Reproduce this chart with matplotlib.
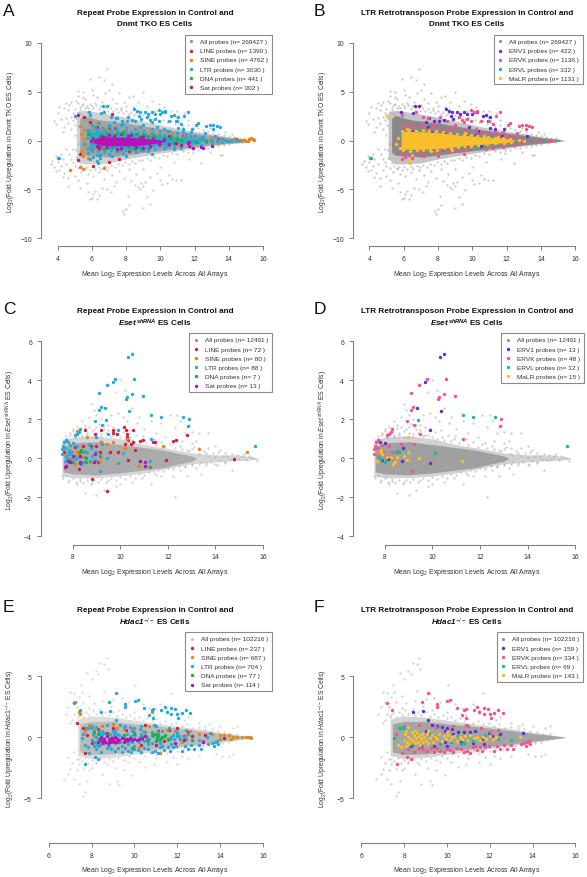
import matplotlib
matplotlib.use("Agg")
import matplotlib.pyplot as plt

plt.rcParams['font.family'] = ['Liberation Sans', 'DejaVu Sans']
plt.rcParams['mathtext.fontset'] = 'custom'
plt.rcParams['mathtext.rm'] = 'Liberation Sans'
plt.rcParams['mathtext.it'] = 'Liberation Sans:italic'
plt.rcParams['mathtext.bf'] = 'Liberation Sans:bold'
plt.rcParams['mathtext.bfit'] = 'Liberation Sans:italic:bold'

# ---------- dense body of the "All probes" clouds, read as (x, lower, upper) ----------
DNMT_BODY = [(5.3,-1.2,2.2),(5.5,-1.5,2.6),(6,-1.6,2.3),(6.5,-1.6,2.1),(7,-1.7,2.0),(8,-1.5,1.8),(9,-1.25,1.5),(10,-1.05,1.2),
             (11,-.85,1.0),(12,-.65,.75),(13,-.45,.55),(14,-.27,.3),(15,-.1,.12),(15.2,-.02,.02)]
DNMT_HALO = [(5.1,-1.9,2.9),(5.5,-2.4,3.1),(6,-2.4,3.0),(7,-2.3,2.7),(8,-1.9,2.4),(9,-1.6,2.0),(10,-1.3,1.6),(11,-1.05,1.25),
             (12,-.8,.95),(13,-.55,.7),(14,-.35,.38),(15,-.14,.16),(15.4,-.02,.02)]
ESET_BODY = [(7.6,-.7,.6),(8,-.8,.8),(9,-.85,.85),(10,-.75,.7),(11,-.6,.55),(11.8,-.48,.42),(12.2,-.36,.32),(12.6,-.25,.22),(13,-.15,.12),(13.2,-.02,.02)]
ESET_HALO = [(7.55,-.9,.85),(8,-1.0,1.1),(9,-1.0,1.15),(10,-.9,1.0),(11,-.75,.7),(12,-.52,.5),(13,-.28,.28),(14,-.18,.18),(15,-.12,.17),(15.8,-.05,.02)]
HDAC_BODY = [(7.45,-1.2,1.1),(8,-1.4,1.3),(9,-1.35,1.3),(10,-1.1,1.1),(11,-.95,.95),(12,-.75,.75),(13,-.55,.55),(14,-.32,.32),(15,-.13,.13),(15.5,-.02,.02)]
HDAC_HALO = [(7.35,-1.5,1.5),(8,-1.75,1.75),(9,-1.65,1.65),(10,-1.4,1.4),(11,-1.15,1.15),(12,-.92,.92),(13,-.7,.7),(14,-.42,.42),(15,-.16,.16),(15.55,-.02,.02)]
LTR_DNMT_CORE = [(5.85,-.8,.9),(6,-.9,.95),(7,-.9,.9),(8,-.8,.8),(9,-.65,.6),(10,-.45,.45),(11,-.33,.3),(12,-.2,.2),(12.5,-.03,.03)]
SAT_DNMT_CORE = [(6.1,-.2,.1),(6.5,-.5,.4),(7.5,-.55,.35),(8.5,-.55,.3),(9.3,-.4,.2),(10,-.22,.08),(10.2,-.1,-.05)]

# ---------- Dnmt TKO panels ----------
DNMT_ALL = [(4.7,3.6),(4.8,4.0),(5.0,3.2),(5.1,4.1),(5.2,3.8),(4.9,2.8),(5.3,3.4),(5.0,2.6),(5.4,2.8),(4.6,3.1),(5.2,4.6),(5.5,3.7),(5.6,4.3),(5.8,3.3),(5.7,2.9),
 (3.8,2.0),(3.9,1.7),(4.0,2.8),(4.1,3.4),(4.2,2.2),(4.4,1.4),(4.5,2.3),(4.3,.9),(4.6,1.8),(4.8,1.2),(5.0,.6),(4.9,2.1),(4.5,3.8),(4.4,3.3),(5.05,1.6),(5.1,2.3),(4.8,2.4),
 (3.6,-2.4),(3.7,-2.1),(3.8,-2.7),(3.9,-1.6),(4.0,-2.2),(4.1,-3.0),(4.2,-2.6),(4.3,-1.9),(4.4,-3.3),(4.5,-2.4),(4.6,-3.8),(4.6,-4.7),(4.8,-3.0),(4.9,-2.2),(5.0,-3.6),(5.1,-1.8),(5.2,-4.0),(5.2,-2.8),(5.3,-4.9),(5.4,-3.2),(4.7,-1.4),(4.9,-.9),(4.2,-1.4),(4.5,-.9),(5.1,-1.0),(5.2,-.4),(5.0,-2.6),(4.8,-1.9),(3.9,-3.1),(4.3,-3.7),
 (5.7,-4.4),(5.8,-5.3),(6.0,-5.9),(6.1,-5.5),(6.2,-5.2),(5.9,-6.0),(6.3,-6.0),(6.4,-5.6),(6.6,-4.9),(6.9,-5.0),(7.1,-5.3),(7.3,-4.7),(7.4,-4.3),(7.8,-7.2),(7.9,-7.5),(8.0,-7.0),(8.2,-6.6),(8.1,-5.7),(8.3,-4.2),(8.5,-4.6),(8.7,-4.8),(8.8,-5.0),(8.9,-4.4),(9.0,-4.7),(9.1,-4.3),(9.2,-5.8),(9.4,-6.5),(9.0,-6.9),(9.6,-5.1),(10,-4.1),(10.1,-4.5),(10.4,-4.4),(10.7,-3.9),(10.9,-4.0),(11.2,-4.1),(10.5,-3.5),(9.8,-3.3),(9.4,-3.7),(8.6,-3.4),(7.9,-3.8),(7.2,-3.5),(6.7,-3.9),(6.4,-3.2),(6.1,-3.6),(5.8,-3.4),(5.6,-2.8),(6.9,-3.0),(7.6,-3.1),(8.2,-2.9),(9.0,-2.9),(10.0,-2.7),(10.8,-2.2),(11.7,-1.9),(12.4,-2.3),(13.5,-1.45),(13.6,-1.5),(12.9,-1.2),(11.9,-1.3),
 (6.0,5.2),(5.5,5.0),(5.2,5.1),(6.1,4.7),(6.4,6.5),(6.7,6.2),(7,5.2),(7.2,5.8),(6.9,7.3),(5.9,6.3),(5.5,4.5),(6.3,4.5),(6.8,4.9),(7.2,4.3),(7.6,4.9),(7.9,3.9),(8.2,4.5),(8.4,4.6),(8.7,4.0),(9,5.0),(9.5,4.1),(9.9,3.7),(10.2,3.4),(10.6,3.0),(11,3.0),(11.4,2.8),(8.0,3.5),(6.2,3.8),(6.6,3.9),(7.0,3.6),(7.4,3.8),(7.7,3.3),(8.4,3.4),(9.2,3.5),(9.7,3.0),(10.9,2.4),(11.6,2.1),(12.2,1.7),(12.9,1.3),(13.8,.9),(14.2,.7),
 (5.2,2.9),(5.3,3.1),(5.45,3.6),(5.6,3.35),(5.75,3.55),(5.9,3.7),(6.0,3.5),(6.1,3.3),(6.25,3.6),(6.4,3.25),(6.5,3.5),(6.65,3.15),(6.8,3.4),(6.95,3.05),(7.1,3.35),(7.25,3.0),(7.4,3.2),(7.55,2.9),(7.7,3.1),(7.85,2.85),(8.0,3.05),(8.15,2.75),(8.3,2.9),(8.45,2.6),(8.6,2.8),(8.8,2.5),(9.0,2.65),(9.15,2.35),(9.35,2.5),(9.55,2.2),(9.75,2.3),(9.95,2.05),(10.15,2.15),(10.4,1.9),(10.6,2.0),(10.85,1.7),(11.1,1.75),(11.35,1.5),(11.6,1.55),(11.9,1.3),(12.2,1.25),(12.5,1.05),(12.8,1.0),(13.1,.85),(13.4,.7),(13.7,.6),(14,.5),(14.3,.4),(14.6,.3),(14.9,.25),
 (5.3,-2.3),(5.45,-2.6),(5.6,-2.9),(5.75,-2.7),(5.9,-3.0),(6.05,-2.75),(6.2,-2.95),(6.4,-2.7),(6.55,-2.9),(6.75,-2.6),(6.95,-2.75),(7.15,-2.5),(7.35,-2.7),(7.55,-2.4),(7.75,-2.55),(7.95,-2.25),(8.15,-2.4),(8.35,-2.1),(8.55,-2.3),(8.75,-1.95),(8.95,-2.05),(9.2,-1.8),(9.4,-1.95),(9.65,-1.65),(9.9,-1.75),(10.15,-1.5),(10.4,-1.6),(10.7,-1.3),(11,-1.35),(11.3,-1.1),(11.6,-1.15),(11.9,-.95),(12.2,-1.0),(12.5,-.8),(12.8,-.75),(13.1,-.65),(13.4,-.55),(13.7,-.45),(14,-.4),(14.4,-.3),(14.8,-.2)]
B_ERV1 = [(6.66,3.56),(6.9,3.5),(5.83,2.95),(6.56,2.8),(8.45,3.2),(8.65,3.05),(8.83,2.95),(9.1,2.9),(9.3,2.7),(8.75,2.5),(8.9,2.25),(8.35,2.1),(8.05,2.0),(7.75,2.0),(7.3,1.85),(7.5,2.35),(9.5,2.95),(9.7,2.7),(10,2.7),(10.25,2.9),(10.6,2.5),(10.8,2.6),(11.05,2.45),(10.9,2.0),(11.05,1.3),(11.35,1.2),(11.85,1.15),(11.75,.5),(13.2,.5),
 (6.5,.9),(7,.7),(7.6,.9),(8.4,.7),(9.2,.5),(9.7,-.5),(10.2,.6),(10.5,-.6),(11,.3),(12.2,.2),(7.1,-1),(8.3,-.9),(9.0,-1.0),(7.4,1.4),(9.8,1.4),(10.4,1.0)]
B_ERVK = [(5.9,2.6),(6.7,2.9),(7.1,2.4),(7.4,2.3),(7.8,1.7),(8.1,2.4),(8.5,2.0),(9.0,1.6),(9.2,2.4),(9.4,2.1),(9.5,1.9),(9.7,2.2),(9.9,2.0),(9.9,3.1),(10.1,2.9),(10.3,3.0),(10.5,2.0),(11.2,1.7),(11.6,2.9),(11.4,2.5),(11.0,2.0),(12.1,1.6),(12.2,1.8),(12.7,1.5),(12.9,1.6),(13.1,1.6),(13.3,1.5),(13.5,1.4),(13.1,1.2),(11.8,.9),(12.6,.8),(7.0,1.6),
 (5.8,-1.3),(6,-1.1),(6.3,-1.5),(6.7,-1.2),(7,-1.4),(7.4,-1.1),(7.8,-1.3),(8.2,-.9),(8.6,-1.2),(9,-1),(9.3,-1.1),(9.7,-.9),(10.2,-.8),(10.8,-.9),(11.2,-.8),(11.8,-.7),(12.4,-.5),(13,-.3),(13.6,-.2),(14.1,-.1),(14.6,0.0),(12.9,.1),(13.3,-.1),(13.9,.0),(14.4,.1),(5.9,-1.9),(6.1,-1.7),(6.5,-1.8),(7.2,-1.6),(8.0,-1.6),(9.5,-1.4),
 (5.8,1.1),(6.2,1.4),(6.6,1.3),(7,1.5),(7.5,1.2),(8,1.3),(8.5,1.2),(9,1.0),(9.5,1.2),(10,1),(10.5,1.0),(11,.8),(11.5,.7),(12,.5),(12.5,.4),(6.4,1.8),(6.0,1.6),(7.7,1.6),(8.8,1.4),(10.2,1.2),(11.3,.9),(12.3,.3),(13.6,.15),(14.2,-.05),(12.1,-.3),(12.7,-.2)]
B_ERVL = [(5.8,.9),(5.9,.7),(4.1,-1.8),(4.05,-1.8),(7.2,.8),(8.0,.8),(9.0,.7),(10.3,-.7),(10.8,-.6),(11,.4),(11.9,-.1),(12.5,.1),(13,.0),(13.8,.1),(14.2,0),(10.0,.5),(9.3,-.7),(7.5,-1.0),(6.5,-.9),(6.8,1.05),(12.2,-.05),(13.4,.05)]
B_MALR = [(5.05,2.5),(6.35,-2.3),(6.3,-2.15),(5.55,-.4),(6.5,-1.5),(6.2,1.15),(7.6,-1.1),(8.8,-.95),(5.8,-.8),(5.7,.3),(9.6,.75),(10.7,.5),(11.5,.4),(12.7,.05),(13.0,-.05),
 (5.9,1.0),(6.3,1.05),(6.7,.95),(7.1,1.05),(7.5,.95),(7.9,.95),(8.3,.85),(8.7,.8),(9.1,.7),(9.5,.55),(9.9,.55),(10.3,.45),(10.9,.4),(11.3,.3),(11.8,.3),(12.2,.2),
 (5.95,-.95),(6.35,-1.05),(6.75,-1.0),(7.15,-1.0),(7.55,-.95),(7.95,-.95),(8.35,-.8),(8.75,-.8),(9.15,-.7),(9.55,-.55),(9.95,-.55),(10.35,-.45),(10.85,-.4),(11.35,-.3),(11.85,-.25),(12.25,-.15)]
A_LINE = [(5.2,2.6),(5.55,2.4),(5.9,1.9),(6.3,1.4),(7.0,1.4),(7.2,2.75),(7.35,1.3),(6.1,-2.6),(6.5,-1.5),(7.0,-2.2),(7.6,-1.9),(8.2,-1.1),(9.3,-.8),(5.3,-1.4),(5.9,.8),(6.8,.4),(7.7,.7),(8.8,.4),(9.6,.5),(10.5,.5),(11.3,.5),(11.7,-.2),(12.5,.2),(13.4,.2),(14.4,.15),(10.4,-.5),(6.4,-.7)]
A_SINE = [(4.75,-3.05),(6.7,-2.8),(5.3,-2.7),(5.5,-2.9),(5.3,1.5),(5.4,.7),(5.55,1.1),(5.5,.2),(5.6,-.4),(5.7,-.9),(5.8,.4),(6,1.3),(6.1,.2),(6.2,-.7),(6.4,1.1),(6.6,-.9),(6.5,.8),(7,1.1),(7.1,-.9),(7.3,.9),(7.7,-1.0),(8,1.0),(8.4,-.9),(8.7,.9),(9.1,-.8),(9.4,.8),(9.9,.7),(10.2,-.6),(10.7,.7),(11,-.4),(11.4,.5),(11.9,.4),(12.4,.4),(13,.25),(13.4,-.25),(13.6,.2),(14,.1),(14.3,.15),(14.5,.0),(14.7,.05),(14.8,0),(14.9,.05),(15,0),(15.1,-.02),(15.2,.15),(15.3,.3),(15.4,.2),(15.45,.08),(5.35,-1.1),(5.5,-1.6),(5.8,-1.8),(6.3,1.8),(6.7,1.3)]
A_DNA = [(5.8,.7),(6.0,.4),(6.5,.55),(6.9,.8),(7.4,.7),(7.8,.9),(8.2,.6),(8.6,.7),(9.0,.6),(9.3,.5),(9.7,.5),(10.2,.3),(10.6,.25),(11.0,.15),(11.2,.05),(6.3,-.6),(6.7,-.8),(7.2,-.7),(7.7,-.85),(8.1,-.7),(8.5,-.85),(8.9,-.75),(9.4,-.7),(10,-.4),(10.8,-.25),(12.1,-.2),(12.7,-.1)]
A_SAT = [(5.2,-2.05),(6.2,-.2),(5.95,-.1),(6.4,-.8),(7.5,-.9),(9.0,-.75),(9.9,-.4),(10.2,.1),(10.5,-.4),(10.9,-.3),(11.2,-.5),(11.7,-.55),(11.9,-.75),(12.4,-.7),(12.5,-.8),(13,-.55),(9.6,.2),(8.3,.55),(7.0,.55),(11.6,-.3),
 (6.1,.2),(6.3,-.55),(6.6,.5),(6.9,-.7),(7.3,.5),(7.7,-.75),(8.1,.45),(8.6,-.7),(9,.4),(9.4,-.55)]

# ---------- Eset shRNA panels ----------
ESET_ALL = [(9.5,3.8),(9.8,3.4),(10,4),(10.2,3.5),(8.8,2.8),(8.9,2.5),(9,2.2),(8.7,2.1),(8.5,1.7),(8.2,1.6),(8,1.5),(7.9,1.3),(8.4,1.9),(9.2,2),(9.6,2.2),(9.9,2.3),(10.1,2.1),(10.5,2.6),(10.8,2.1),(11.3,1.9),(11.7,1.8),(12.1,2.2),(12.4,2.2),(12.5,1.9),(12.9,1.7),(13,1.35),(13.3,1.3),(13.7,1.3),(12.7,1.3),(12.3,1.6),(11.9,1.1),(11.5,1.3),(11,1.5),(10.7,1.8),(10.3,1.9),(9.3,1.5),(9.5,1.7),(9,1.6),(8.8,1.4),(8.6,1.3),(8.4,1.2),
 (8.5,-1.8),(9,-1.9),(9.3,-1.6),(9.8,-1.4),(10,-1.3),(10.5,-1.2),(11.3,-1.3),(12.3,-2),(8.2,-1.3),(7.8,-1.2),(7.55,-.9),(8.8,-1.2),(11.7,-.9),(12.2,-.9),(12.8,-.9),(13.4,-.8),(14.7,-.6),
 (12.6,.5),(12.7,-.4),(12.9,.4),(13,-.3),(13.1,.6),(13.2,-.5),(13.3,.2),(13.4,-.2),(13.5,.4),(13.6,-.35),(13.7,.55),(13.7,.1),(13.8,-.2),(13.9,.25),(14,.05),(14.05,-.35),(14.1,.3),(14.2,-.15),(14.3,.1),(14.4,.25),(14.4,-.25),(14.5,.1),(14.6,-.05),(14.7,.2),(14.8,-.1),(14.9,.15),(15,-.05),(15.1,.1),(15.2,.2),(15.3,-.1),(15.4,.1),(15.5,.05),(15.6,.0),(15.75,-.15),(14.0,.65),(13.2,.9),
 (9.2,1.1),(9.7,1.2),(10.4,1.1),(10.9,1.0),(11.4,1.0),(12.2,.8),(12.6,.9),(13.0,.8),(8.1,1.15),(7.7,1.0),(8.3,-1.15),(9.5,-1.1),(10.9,-1.0),(11.5,-.85),(12.5,-.6),
 (7.6,.95),(7.7,1.15),(7.8,1.0),(7.9,1.2),(8.0,1.4),(8.1,1.05),(8.2,1.3),(8.3,1.45),(8.4,1.1),(8.5,1.55),(8.6,1.2),(8.7,1.6),(8.8,1.1),(8.9,1.5),(9.0,1.3),(9.1,1.75),(9.2,1.25),(9.3,1.7),(9.4,1.3),(9.5,1.45),(9.6,1.15),(9.7,1.6),(9.8,1.2),(9.9,1.5),(10,1.1),(10.1,1.35),(10.2,1.0),(10.35,1.45),(10.5,.95),(10.65,1.2),(10.8,.9),(10.95,1.15),(11.1,.8),(11.3,.95),(11.5,.7),(11.7,.85),(11.9,.6),(12.1,.75),(12.3,.55),(12.5,.65),(12.8,.45),(13,.5),(13.3,.55),(13.6,.25),(14.2,.45),
 (7.6,-1.0),(7.7,-.9),(7.85,-1.1),(8,-1.0),(8.15,-1.2),(8.3,-1.05),(8.45,-1.25),(8.6,-1.1),(8.75,-1.3),(8.9,-1.1),(9.05,-1.2),(9.2,-1.05),(9.4,-1.2),(9.6,-1.0),(9.8,-1.1),(10,-.95),(10.2,-1.05),(10.4,-.9),(10.6,-1.0),(10.8,-.8),(11,-.85),(11.2,-.7),(11.4,-.75),(11.6,-.6),(11.8,-.65),(12,-.5),(12.2,-.55),(12.45,-.4),(12.7,-.45),(13,-.35),(13.3,-.3),(13.6,-.25),(14.0,-.3),(14.4,-.2)]
D_ERV1 = [(10.32,5.18),(10.5,5.35),(9.7,3.93),(9.34,2.58),(10.35,2.44),(9.9,1.43),(7.8,.85),(8,.78),(8.78,.55),(8.74,-.15),(9.9,-.24),(8.15,-.03),(7.9,-.07)]
D_ERVK = [(9.78,4.05),(9.45,3.78),(10.57,4.05),(9.12,3.33),(10.49,3.32),(10.96,3.21),(10.3,3.16),(10.22,3.03),(9.19,2.62),(9.1,2.46),(8.92,1.93),(9.25,1.71),(12.9,2.02),(12.84,1.68),(9.5,1.26),(11.29,.97),(8.32,1.5),(8.25,1.37),(8.2,1.25),(8.11,1.2),(7.72,.96),(7.62,.82),(7.6,.65),(7.57,.48),(7.67,.51),(7.9,.68),(8.18,.65),(8.67,.73),(9.23,.73),(9.16,-.65),(7.55,.22),(7.73,.14),(7.86,.25),(8.04,.05),(8.32,.3),(8.53,.4),(8.07,.14),(7.94,.3)]
D_ERVL = [(11.29,2.24),(11.72,2.1),(12.63,2.13),(15.65,.65),(9.41,1.98),(10.1,.27),(7.86,-.03),(8,-.2),(8.46,.34),(8.6,.31),(8.92,.3),(7.76,0)]
D_MALR = [(8.99,1.08),(7.86,.43),(7.83,.31),(7.66,-.15),(8.11,.05),(8.28,.05),(8.5,.05),(8.43,-.17),(8.35,-.29),(8.81,.14),(8.98,.31),(8.95,-.1),(9.44,.02),(11.26,-.14),(7.9,.22)]
C_LINE = [(10.14,1.62),(10.22,1.47),(10.52,1.45),(9.7,1.45),(9.87,1.23),(10.27,1.25),(10.3,1.08),(10.33,.96),(9.7,1.3),(9.19,1.47),(8.92,1.25),(8.5,1.44),(12.8,1.21),(12.36,.96),(12.2,.9),(11.36,.85),(11.45,.85),(10.94,.96),(10.83,.89),(10.52,.82),(10.45,.73),(10.18,.73),(9.19,.82),(8.76,.65),(9,.65),(8.45,.65),(8.1,.56),(9.92,.31),(9.57,.31),(9.15,.31),(10.6,.44),(7.65,.31),(8.3,.31),(8.27,-.55),(8.82,-1.08),(9.43,-1.66),(7.72,-.38),(10.33,-.07),(11.94,-.1),(14.78,-.03),(10.83,-.15),(9.05,-.2),(7.9,-.12)]
C_SINE = [(8.2,1.42),(8.59,1.08),(9.45,.73),(9.68,.85),(9.17,.85),(10.27,1.0),(11.78,.65),(13.33,.5),(15.34,.31),(10.2,.51),(7.82,.22),(7.95,.31),(8.1,.14),(8.24,.22),(8.38,.31),(8.45,.05),(8.56,.31),(7.96,-.03),(8.2,.31),(8.31,.05),(8.1,-.29),(8.73,-.2),(9.15,-.12),(10.8,-.4)]
C_DNA = [(8.31,.31),(8.56,.02),(8.56,-.2),(11.24,-.44),(8.34,.43),(7.96,-.2),(9.15,.14)]
C_SAT = [(7.72,-.41),(7.82,-.15),(8.31,-.2),(8.94,.22),(10.85,-.14),(11.06,-.17),(11.06,-.38),(7.89,-.17),(8.31,.14),(7.68,-.46),(8.9,-.2),(8.0,.1),(8.3,-.22)]

# ---------- Hdac1 panels ----------
HDAC_ALL = [(8.4,6.1),(8.6,6.0),(8.7,6.5),(8.75,5.6),(8.2,5.4),(7.8,5.3),(8,4.8),(8.3,5.2),(7.5,4.3),(7.2,3.6),(7,3.7),(6.9,2.5),(6.8,1.9),(7.1,1.4),(7.3,2.5),(7.6,2.9),(7.9,3.4),(8.1,2.8),(8.6,3.8),(9.2,3.6),(9.4,3.2),(9.7,2.9),(10.05,4.3),(10.2,3.1),(10.7,2.4),(11,2.3),(11.5,2.2),(12,2.0),(12.2,1.9),(11.7,3.6),(12.5,1.7),(13.5,1.1),(14,.9),(14.6,.8),(14.8,.9),(7.1,2.9),(7.4,3.3),(7.55,3.7),(7.2,1.9),(7.0,1.2),(7.35,1.7),(8.5,3.0),(8.9,2.6),(9.0,3.1),(9.6,2.5),(10.4,2.7),(11.2,2.7),(12.3,1.4),(13,1.2),(13.3,.9),(7.9,2.4),(8.4,2.3),(9.3,2.2),(10,2.1),(10.9,1.8),
 (6.7,-3.4),(6.9,-3),(7,-2.6),(7.2,-3.4),(7.3,-2.7),(7.4,-3.8),(7.4,-2.2),(7.6,-4.8),(7.7,-4.5),(7.8,-3.6),(8,-2.5),(7.9,-2.7),(8.5,-3.0),(8.8,-3.8),(9.2,-3.6),(9.3,-3.9),(9.5,-2.7),(9.9,-3.1),(10.5,-2.4),(10.9,-2.2),(11.5,-2.0),(12,-2.2),(12.5,-1.7),(13,-1.5),(13.8,-1.4),(14.1,-1.55),(14.4,-1.5),(14.6,-1.4),(7.1,-2.1),(7.3,-1.8),(7.6,-2.6),(8.2,-2.1),(8.7,-2.2),(9.1,-2.5),(9.7,-2.0),(10.2,-2.0),(11,-1.7),(11.8,-1.6),(12.2,-1.5),(6.9,-1.6),(7.2,-1.2),
 (7.4,1.8),(7.5,2.0),(7.6,1.7),(7.75,2.1),(7.9,1.85),(8.05,2.2),(8.2,1.9),(8.35,2.15),(8.5,1.85),(8.65,2.1),(8.8,1.8),(9,2.05),(9.2,1.75),(9.4,1.95),(9.6,1.65),(9.8,1.85),(10,1.55),(10.2,1.7),(10.4,1.4),(10.6,1.6),(10.8,1.3),(11,1.5),(11.2,1.2),(11.45,1.35),(11.7,1.1),(11.95,1.2),(12.2,.95),(12.45,1.05),(12.7,.8),(13,.85),(13.3,.65),(13.6,.65),(13.9,.5),(14.2,.45),(14.5,.3),(14.8,.25),
 (7.4,-1.8),(7.55,-1.95),(7.7,-1.7),(7.85,-2.1),(8,-1.85),(8.2,-2.05),(8.4,-1.8),(8.6,-2),(8.8,-1.75),(9,-1.95),(9.25,-1.7),(9.5,-1.85),(9.75,-1.55),(10,-1.7),(10.25,-1.4),(10.5,-1.55),(10.75,-1.25),(11,-1.4),(11.25,-1.15),(11.5,-1.25),(11.75,-1.0),(12,-1.15),(12.3,-.9),(12.6,-.95),(12.9,-.75),(13.2,-.75),(13.5,-.6),(13.8,-.55),(14.1,-.45),(14.4,-.35),(14.7,-.25)]
F_ERV1 = [(8.43,2.05),(8.88,2.19),(9.13,1.42),(9.32,1.04),(9.55,.9),(9.78,.82),(10.0,.8),(10.25,.68),(10.5,.4),(10.8,.4),(11.1,.45),(8.3,-.75),(8.8,-.7),(9.4,-.7),(9.9,-.4),(10.65,-.4),(11.73,-.55),(11.65,-.15),(12.5,.27),(13.55,.33),(11.97,.36),(8.6,.35),(9.0,.5),(9.9,.5),(10.3,.3),(11.3,.5),(8.0,-.2),(10.0,-.7),(11.2,-.5),(12.1,.1)]
F_ERVK = [(7.2,2.8),(7.45,2.2),(9.13,3.63),(8.82,2.87),(9.55,2.7),(9.55,2.45),(10.02,3.0),(10.15,3.03),(10.45,2.38),(10.8,2.2),(10.87,2.3),(10.7,1.8),(10.87,1.6),(11.26,2.2),(11.42,2.46),(11.73,2.38),(11.73,1.9),(12,1.9),(12.2,2),(12.4,2.2),(12.6,2),(12.05,1.6),(11.5,2.05),(11.9,2.3),(7.68,-2.2),(8.15,-1.6),(8.3,-1.75),
 (8.46,-1.2),(9.08,-1.1),(9.4,-1.2),(9.7,-1.1),(10,-.95),(10.3,-1.2),(10.65,-.95),(10.95,-1.1),(11.2,-.8),(11.4,-1),(11.65,-1.1),(11.8,-.8),(12.2,-1.1),(12.5,-.95),(12.8,-.95),(13.1,-.95),(13.45,-.55),(13.75,-.4),(13.9,-.55),(13.7,-.7),(8.9,-.95),(9.25,-.85),(9.55,-.9),(9.85,-1.2),(10.15,-1.0),(10.45,-.85),(10.8,-1.2),(11.1,-1.3),(11.3,-.75),(11.55,-.8),(11.95,-.7),(12.35,-.75),(12.65,-.6),(13,-.6),(13.6,-.45),(13.85,-.3),(7.9,-1.25),(8.2,-.95),(8.7,-.85),
 (8.0,.9),(8.7,1.0),(9.5,.85),(10.3,.95),(11.0,.9),(11.6,.8),(12.4,.6),(7.6,.3),(10.9,1.0),(12.0,.45)]
F_ERVL = [(7.8,.8),(7.9,.77),(7.75,.78),(8.0,.75),(7.55,-.08),(10.65,-.55),(10.2,-.4),(10.8,-.45),(11.05,-.1),(13,-.2),(9.7,-.55),(11.8,.15),(8.5,.3),(9.2,.25),(10.5,.1),(11.2,-.3),(12.4,-.1),(9.4,0),(8.4,-.6)]
F_MALR = [(7.7,-.6),(7.85,-.8),(8,-.2),(8.05,.25),(8.1,.5),(8.15,-.4),(8.2,.05),(8.25,-.55),(8.3,-.1),(8.35,.4),(8.4,-.3),(8.45,.15),(8.5,-.5),(8.55,-.05),(8.6,.35),(8.65,-.35),(8.7,.1),(8.75,-.6),(8.8,-.15),(8.85,.25),(8.9,-.4),(8.95,.05),(9.0,-.2),(9.05,.3),(9.1,-.5),(9.2,-.05),(9.3,.2),(9.35,-.35),(9.45,.05),(9.55,-.15),(9.65,.3),(9.75,-.3),(9.85,.1),(9.95,-.1),(10.05,.15),(10.15,-.25),(10.25,0),(10.35,.1),(10.45,-.3),(10.6,.05),(10.7,-.15),(10.85,.1),(11.0,-.2),(11.1,.15),(11.25,-.05),(11.4,.05),(11.55,-.2),(11.7,.05),(11.85,-.1),(12.0,.1),(12.15,-.1),(12.3,0),(8.2,.85),(8.1,-.75),(9.1,.55),(13.4,.0),(8.5,.55),(10.0,.45)]
E_LINE = [(7.3,1.2),(7.6,.8),(7.8,.2),(7.7,-1.3),(8.3,.7),(8.7,.35),(9,.8),(9.6,.6),(10.5,1.0),(11.1,.5),(12,.8),(12.5,.4),(13.3,.2),(14.2,-.05),(9.3,-.4),(10.3,-.6),(11.4,-.3),(12.3,.1),(8.0,-.5),(11.6,.6)]
E_SINE = [(7.25,2.9),(7.4,2.1),(7.45,1.9),(7.7,.5),(7.9,1.0),(8.2,.8),(8.5,.9),(8.8,-.7),(9.2,.8),(9.5,.7),(9.9,.65),(10.2,-.8),(10.4,.5),(10.8,2.1),(11.2,-1.3),(11.5,.6),(11.9,.5),(12.2,-.4),(12.6,.5),(13,.3),(13.2,-.3),(13.6,.25),(14,.2),(14.2,.15),(14.4,.2),(14.6,.05),(14.8,.05),(15,.02),(15.2,.05),(15.3,0),(15.4,0),(15.45,-.02),(12.4,.2),(10.7,.9),(9.0,1.1),(8.1,.1),(14.0,-.1),(14.5,-.1)]
E_DNA = [(8.1,.4),(8.3,.3),(8.7,.2),(9.5,.2),(10.0,.25),(10.6,-.2),(10.8,.2),(10.95,.3),(11.05,.05),(11.1,.2),(11.2,-.15),(11.3,.05),(11.45,.15),(11.55,-.1),(9.9,-.85),(12.7,-.2),(11.0,-.3),(10.35,-.15)]
E_SAT = [(8.3,-.35),(8.4,-.15),(8.45,.05),(8.5,-.3),(8.55,-.45),(8.6,-.1),(8.65,-.35),(8.7,.1),(8.75,-.45),(8.8,-.2),(8.85,-.4),(8.9,-.05),(8.95,-.3),(9.0,-.15),(9.05,-.35),(9.1,.05),(9.15,-.4),(9.2,-.1),(9.3,-.25),(9.4,-.05),(9.5,-.4),(9.55,-.15),(9.6,-.3),(9.65,-.1),(9.7,-.25),(9.8,-.05),(9.9,-.2),(10,-.1),(10.1,-.2),(10.2,-.1),(10.35,-.05),(10.5,.1),(11.9,-.45),(12.3,-.2),(12.7,.1),(13.2,-.35),(11.0,-.6)]

LABELS_REPEAT = ['LINE probes', 'SINE probes', 'LTR probes', 'DNA probes', 'Sat probes']
LABELS_LTR = ['ERV1 probes', 'ERVK probes', 'ERVL probes', 'MaLR probes']
N_A = [269427, 1390, 4762, 3030, 441, 302]
N_B = [269427, 422, 1136, 332, 1131]
N_C = [12491, 72, 80, 88, 7, 13]
N_D = [12491, 13, 48, 12, 15]
N_E = [102216, 237, 687, 704, 77, 114]
N_F = [102216, 159, 334, 69, 143]
COL_REPEAT = ['#D2203F', '#E0861F', '#2AA9D8', '#20B02C', '#B512B5']
COL_LTR = ['#5A2FD8', '#F0558E', '#1BB98C', '#FBBF2C']

W, H = 587, 878
fig = plt.figure(figsize=(W/100, H/100), dpi=100, facecolor='white')
TC = '#333333'
LC = '#808080'


def xy(pts):
    return [p[0] for p in pts], [p[1] for p in pts]


def panel(xt, xp0, xp1, yt, yp0, yp1, lp, bp, tp, ylab, title2, tx, lx):
    r = xp1 + 10
    ax = fig.add_axes([lp/W, 1-bp/H, (r-lp)/W, (bp-tp)/H])
    sx = (xt[-1]-xt[0])/(xp1-xp0)
    sy = (yt[-1]-yt[0])/(yp0-yp1)
    ax.set_xlim(xt[0]+(lp-xp0)*sx, xt[0]+(r-xp0)*sx)
    ax.set_ylim(yt[0]-(bp-yp0)*sy, yt[0]+(yp0-tp)*sy)
    ax.patch.set_alpha(0)
    for s in ('top', 'right'):
        ax.spines[s].set_visible(False)
    for s in ('left', 'bottom'):
        ax.spines[s].set_color(LC)
        ax.spines[s].set_linewidth(0.8)
    ax.spines['left'].set_bounds(yt[0], yt[-1])
    ax.spines['bottom'].set_bounds(xt[0], xt[-1])
    ax.set_xticks(xt)
    ax.set_yticks(yt)
    ax.tick_params(length=3, width=0.7, color=LC, labelsize=4.9, labelcolor=TC, pad=3.2)
    fig.text(tx/W, 1-(tp-22.5)/H, title1[ax_kind], ha='center', va='center', fontsize=5.9, fontweight='bold', color='#111111')
    fig.text(tx/W, 1-(tp-11)/H, title2, ha='center', va='center', fontsize=5.9, fontweight='bold', color='#111111')
    fig.text(tx/W, 1-(bp+27)/H, r'Mean Log$_2$ Expression Levels Across All Arrays', ha='center', va='center', fontsize=4.95, color=TC)
    fig.text(lx/W, 1-(yp0+yp1)/2/H, ylab, rotation=90, ha='center', va='center', fontsize=4.9, color=TC)
    return ax


def cloud(ax, halo, body, pts, col, halo_col, ptcol, s=3.0, alpha=.6):
    hx = [p[0] for p in halo]
    ax.fill_between(hx, [p[1] for p in halo], [p[2] for p in halo], color=halo_col, lw=0, zorder=1)
    bx = [p[0] for p in body]
    ax.fill_between(bx, [p[1] for p in body], [p[2] for p in body], color=col, lw=0, zorder=2)
    x, y = xy(pts)
    return ax.scatter(x, y, s=s, color=ptcol, alpha=alpha, lw=0, zorder=1.5)


def band(ax, core, col, z):
    ax.fill_between([p[0] for p in core], [p[1] for p in core], [p[2] for p in core], color=col, lw=0, zorder=z)


def marks(ax, series, cols, labels, ns, allcol, rx, ty):
    hs = [ax.scatter([], [], s=5, color=allcol, lw=0)]
    for i, (pts, c) in enumerate(zip(series, cols)):
        x, y = xy(pts)
        ax.scatter(x, y, s=6, color=c, lw=0, zorder=3+i*.1)
        hs.append(ax.scatter([], [], s=6, color=c, lw=0))
    labs = ['All probes'] + labels
    texts = [f'{l} (n= {n} )' for l, n in zip(labs, ns)]
    leg = ax.legend(hs, texts, loc='upper right', bbox_to_anchor=(rx/W, 1-ty/H), bbox_transform=fig.transFigure,
                    borderaxespad=0, fontsize=4.65, labelspacing=.57, handlelength=.9, handletextpad=.95,
                    borderpad=.55, fancybox=False, framealpha=1, edgecolor='#8a8a8a', labelcolor=TC)
    leg.get_frame().set_linewidth(.8)
    leg.set_zorder(10)


title1 = {'R': 'Repeat Probe Expression in Control and', 'L': 'LTR Retrotransposon Probe Expression in Control and'}
YA = r'Log$_2$(Fold Upregulation in Dnmt TKO ES Cells)'
YC = r'Log$_2$(Fold Upregulation in $\mathit{Eset}^{\,shRNA}$ ES Cells)'
YE = r'Log$_2$(Fold Upregulation in $\mathit{Hdac1}^{-/-}$ ES Cells)'
TA = 'Dnmt TKO ES Cells'
TC2 = r'$\mathbfit{Eset}^{\,\mathbfit{shRNA}}$ ES Cells'
TE = r'$\mathbfit{Hdac1}^{-/-}$ ES Cells'

XT4 = [4, 6, 8, 10, 12, 14, 16]
XT8 = [8, 10, 12, 14, 16]
XT6 = [6, 8, 10, 12, 14, 16]
YTA = [-10, -5, 0, 5, 10]
YTC = [-4, -2, 0, 2, 4, 6]
YTE = [-5, 0, 5]

# A
ax_kind = 'R'
ax = panel(XT4, 57.5, 263, YTA, 239, 44, 40.5, 247, 36, YA, TA, 155, 11)
cloud(ax, DNMT_HALO, DNMT_BODY, DNMT_ALL, '#A4A4A4', '#D0D0D0', '#B4B4B4')
band(ax, LTR_DNMT_CORE, COL_REPEAT[2], 2.9)
band(ax, SAT_DNMT_CORE, COL_REPEAT[4], 3.9)
marks(ax, [A_LINE, A_SINE, B_ERV1+B_ERVK+B_ERVL+B_MALR, A_DNA, A_SAT], COL_REPEAT, LABELS_REPEAT, N_A, '#8f8f8f', 271.7, 36)
# B
ax_kind = 'L'
ax = panel(XT4, 369.3, 575.3, YTA, 239, 44, 352.7, 247, 36, YA, TA, 467, 323)
cloud(ax, DNMT_HALO, DNMT_BODY, DNMT_ALL, '#888888', '#C4C4C4', '#ABABAB')
band(ax, LTR_DNMT_CORE, COL_LTR[3], 3.35)
marks(ax, [B_ERV1, B_ERVK, B_ERVL, B_MALR], COL_LTR, LABELS_LTR, N_B, '#8f8f8f', 582.7, 36)
# C
ax_kind = 'R'
ax = panel(XT8, 72.7, 263, YTC, 537.3, 342.3, 40.5, 545.7, 334.3, YC, TC2, 155, 10)
cloud(ax, ESET_HALO, ESET_BODY, ESET_ALL, '#ABABAB', '#D6D6D6', '#B8B8B8')
marks(ax, [C_LINE, C_SINE, D_ERV1+D_ERVK+D_ERVL+D_MALR, C_DNA, C_SAT], COL_REPEAT, LABELS_REPEAT, N_C, '#8f8f8f', 271.7, 334.3)
# D
ax_kind = 'L'
ax = panel(XT8, 384.7, 575.3, YTC, 537.3, 342.3, 352.7, 545.7, 334.3, YC, TC2, 467, 323)
cloud(ax, ESET_HALO, ESET_BODY, ESET_ALL, '#A0A0A0', '#D2D2D2', '#B0B0B0')
marks(ax, [D_ERV1, D_ERVK, D_ERVL, D_MALR], COL_LTR, LABELS_LTR, N_D, '#8f8f8f', 584, 334.3)
# E
ax_kind = 'R'
ax = panel(XT6, 48.7, 263, YTE, 799.3, 677.3, 40.5, 844, 633.3, YE, TE, 155, 10.5)
cloud(ax, HDAC_HALO, HDAC_BODY, HDAC_ALL, '#BBBBBB', '#DCDCDC', '#C4C4C4')
marks(ax, [E_LINE, E_SINE, F_ERV1+F_ERVK+F_ERVL+F_MALR, E_DNA, E_SAT], COL_REPEAT, LABELS_REPEAT, N_E, '#c4c4c4', 271.7, 633.3)
# F
ax_kind = 'L'
ax = panel(XT6, 361.3, 575.3, YTE, 799.3, 677.3, 352.7, 844, 633.3, YE, TE, 467, 323)
cloud(ax, HDAC_HALO, HDAC_BODY, HDAC_ALL, '#A4A4A4', '#D4D4D4', '#B5B5B5')
marks(ax, [F_ERV1, F_ERVK, F_ERVL, F_MALR], COL_LTR, LABELS_LTR, N_F, '#8f8f8f', 583.3, 633.3)

LETTERS = ['A', 'B', 'C', 'D', 'E', 'F']
LET_X = [3, 314, 3, 314, 3, 314]
LET_Y = [11, 11, 310, 310, 607, 607]
for l, lx_, ly_ in zip(LETTERS, LET_X, LET_Y):
    fig.text(lx_/W, 1-ly_/H, l, fontsize=12.5, ha='left', va='center', color='#111111')

fig.savefig('out.png', dpi=100, facecolor='white')
